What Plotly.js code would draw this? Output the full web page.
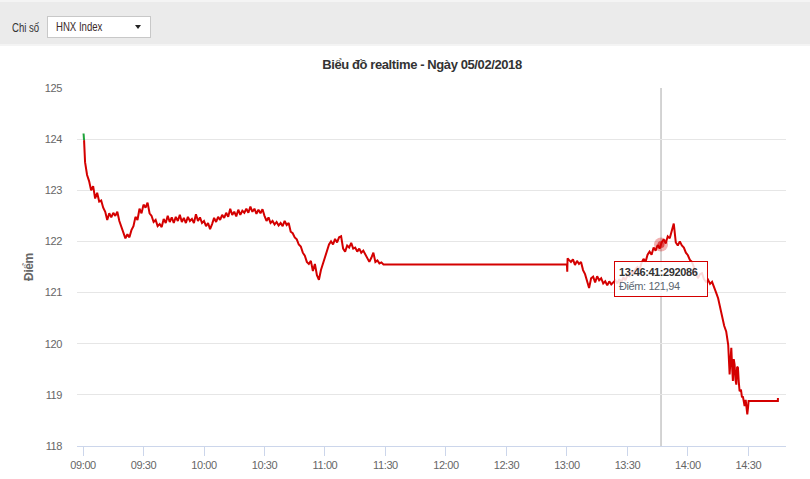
<!DOCTYPE html>
<html>
<head>
<meta charset="utf-8">
<script src="https://cdn.plot.ly/plotly-3.0.1.min.js"></script>
<style>
  html, body { margin: 0; padding: 0; width: 810px; height: 479px; overflow: hidden; background: #fff;
    font-family: "Liberation Sans", sans-serif; }
  .main-svg text { letter-spacing: -0.4px; }
  #hdr { position: absolute; left: 0; top: 0; width: 810px; height: 46px; background: #ebebeb;
    border-top: 2px solid #f4f4f4; border-bottom: 2px solid #f4f4f4; box-sizing: border-box; }
  #lbl { position: absolute; left: 12px; top: 19px; font-size: 12px; color: #333; white-space: nowrap;
    transform: scaleX(0.8); transform-origin: left center; }
  #sel { position: absolute; left: 47px; top: 14px; width: 104px; height: 22px; background: #fff;
    border: 1px solid #c8c8c8; box-sizing: border-box; font-size: 12px; color: #3a2a2a; }
  #sel span { position: absolute; left: 8px; top: 3px; white-space: nowrap;
    transform: scaleX(0.8); transform-origin: left center; }
  #sel i { position: absolute; right: 9px; top: 8px; width: 0; height: 0; border-left: 3px solid transparent;
    border-right: 3px solid transparent; border-top: 4px solid #222; }
  #chart { position: absolute; left: 0; top: 47px; width: 810px; height: 432px; }
</style>
</head>
<body>
<div id="hdr"><div id="lbl">Chi số</div><div id="sel"><span>HNX Index</span><i></i></div></div>
<div id="chart"></div>
<script>
const DAY = "2018-02-05 ";

// opening tick (above reference) - green
const upTimes = ["09:00:15", "09:00:30"];
const upValues = [124.11, 123.98];

// opening seconds
const openTimes = ["09:00:30", "09:00:42"];
const openValues = [123.98, 123.65];

// morning session: one reading per minute from 09:01 to 11:29
const morningStart = "09:01:00";
const morningValues = [
  123.55,123.30,123.18,123.00,123.08,122.84,122.95,122.78,122.80,122.66,
  122.58,122.42,122.55,122.47,122.56,122.50,122.58,122.40,122.30,122.18,
  122.06,122.14,122.08,122.22,122.30,122.48,122.42,122.64,122.55,122.72,
  122.66,122.76,122.55,122.50,122.38,122.42,122.30,122.34,122.28,122.44,
  122.36,122.50,122.38,122.47,122.36,122.48,122.40,122.52,122.38,122.46,
  122.36,122.48,122.40,122.44,122.36,122.53,122.40,122.47,122.36,122.40,
  122.30,122.36,122.24,122.34,122.46,122.38,122.48,122.42,122.52,122.46,
  122.56,122.48,122.64,122.52,122.58,122.49,122.62,122.52,122.60,122.56,
  122.64,122.56,122.68,122.58,122.64,122.54,122.62,122.55,122.63,122.50,
  122.40,122.47,122.36,122.40,122.33,122.38,122.31,122.36,122.30,122.40,
  122.32,122.36,122.19,122.16,122.08,122.04,121.94,121.90,121.78,121.72,
  121.60,121.56,121.62,121.42,121.56,121.34,121.25,121.44,121.56,121.68,
  121.82,121.94,122.00,121.94,122.05,121.98,122.08,122.10,121.86,121.80,
  121.92,121.88,121.97,121.86,121.88,121.80,121.86,121.78,121.82,121.74,
  121.66,121.60,121.68,121.78,121.60,121.63,121.57,121.59,121.55
];

// lunch break + restart ticks
const middayTimes = ["13:00:00", "13:00:10", "13:00:20"];
const middayValues = [121.55, 121.41, 121.67];

// afternoon session: one reading per minute from 13:01 to 14:20
const afternoonStart = "13:01:00";
const afternoonValues = [
  121.64,121.60,121.65,121.54,121.62,121.56,121.60,121.44,121.36,121.20,
  121.09,121.28,121.31,121.20,121.32,121.24,121.28,121.18,121.22,121.14,
  121.22,121.16,121.20,121.24,121.18,121.26,121.20,121.30,121.24,121.34,
  121.32,121.42,121.36,121.46,121.50,121.44,121.58,121.66,121.60,121.74,
  121.80,121.74,121.88,121.82,121.93,121.86,121.98,122.04,121.96,122.10,
  122.06,122.22,122.35,121.98,121.92,122.00,121.92,121.88,121.78,121.73,
  121.64,121.60,121.48,121.40,121.28,121.36,121.38,121.26,121.21,121.25,
  121.17,121.21,121.12,121.00,120.89,120.70,120.57,120.35,120.24,119.98
];

// closing sell-off and ATC
const closeTimes = [
  "14:20:42","14:21:10","14:21:32","14:22:00","14:22:20","14:22:45","14:23:10","14:23:35","14:24:01","14:24:25",
  "14:24:49","14:25:15","14:25:39","14:26:20","14:26:50","14:27:17","14:27:40","14:28:08","14:28:40","14:29:00",
  "14:29:28","14:29:50","14:30:07","14:44:38","14:44:40"
];
const closeValues = [
  119.40,119.85,119.92,119.50,119.27,119.70,119.59,119.30,119.20,119.55,
  119.53,119.25,119.07,119.10,118.95,118.97,118.85,118.78,118.90,118.70,
  118.62,118.75,118.88,118.88,118.94
];

// hovered point shown in the tooltip
const hoverTime = "13:46:41";
const hoverValue = 121.94;
const hoverLabel = "13:46:41:292086";
const hoverText = "121,94";

const yTicks = [118, 119, 120, 121, 122, 123, 124, 125];
const FONT = '"Liberation Sans", Arial, sans-serif';

function perMinute(start, vals) {
  const base = new Date("2018-02-05T" + start + "Z").getTime();
  return vals.map((_, i) => {
    const d = new Date(base + i * 60000);
    return DAY + d.toISOString().slice(11, 19);
  });
}

const allTimes = [].concat(
  openTimes.map(t => DAY + t),
  perMinute(morningStart, morningValues),
  middayTimes.map(t => DAY + t),
  perMinute(afternoonStart, afternoonValues),
  closeTimes.map(t => DAY + t)
);
const allValues = [].concat(openValues, morningValues, middayValues, afternoonValues, closeValues);

const traces = [
  { x: allTimes, y: allValues, type: "scatter", mode: "lines",
    line: { color: "#d40000", width: 2 }, hoverinfo: "skip" },
  { x: upTimes.map(t => DAY + t), y: upValues, type: "scatter", mode: "lines",
    line: { color: "#1fa33a", width: 2 }, hoverinfo: "skip" },
  { x: [DAY + hoverTime], y: [hoverValue], type: "scatter", mode: "markers",
    marker: { color: "rgba(212,0,0,0.3)", size: 14 }, hoverinfo: "skip" },
  { x: [DAY + hoverTime], y: [hoverValue], type: "scatter", mode: "markers",
    marker: { color: "rgba(212,0,0,0.6)", size: 7 }, hoverinfo: "skip" }
];

const layout = {
  width: 810, height: 432,
  margin: { l: 77, r: 24, t: 40.5, b: 32.5 },
  paper_bgcolor: "#ffffff", plot_bgcolor: "#ffffff",
  showlegend: false,
  hovermode: false,
  font: { family: FONT, color: "#666", size: 11 },
  title: { text: "<b>Biểu đồ realtime - Ngày 05/02/2018</b>", x: 422 / 810, xref: "container", xanchor: "center",
           y: 1 - 17 / 432, yref: "container", yanchor: "middle",
           font: { family: FONT, size: 13, color: "#333" } },
  xaxis: {
    type: "date",
    range: [DAY + "08:57:00", DAY + "14:48:40"],
    tickformat: "%H:%M", dtick: 1800000, tick0: DAY + "09:00:00",
    showgrid: false, zeroline: false,
    showline: true, linecolor: "#ccd6eb", linewidth: 1,
    ticks: "outside", ticklen: 9, tickcolor: "#ccd6eb", tickwidth: 1,
    tickfont: { family: FONT, size: 11, color: "#666" }
  },
  yaxis: {
    range: [118, 125], tickvals: yTicks, ticktext: yTicks.map(String),
    showgrid: true, gridcolor: "#e6e6e6", gridwidth: 1, zeroline: false,
    showline: false, ticks: "", ticklabelstandoff: 14,
    tickfont: { family: FONT, size: 11, color: "#666" },
    title: { text: "<b>Điểm</b>", standoff: 7, font: { family: FONT, size: 12, color: "#666" } }
  },
  shapes: [
    { type: "line", xref: "x", yref: "paper", x0: DAY + hoverTime, x1: DAY + hoverTime, y0: 0, y1: 1,
      line: { color: "#a8a8a8", width: 1 }, layer: "below" }
  ],
  annotations: [
    { x: DAY + hoverTime, y: 121.27, xref: "x", yref: "y", showarrow: false,
      xanchor: "center", yanchor: "middle", align: "left",
      text: "<b>" + hoverLabel + "</b><br><span style='color:#5b6670'>Điểm: " + hoverText + "</span>",
      font: { family: FONT, size: 11, color: "#333" },
      bgcolor: "rgba(255,255,255,0.85)", bordercolor: "#d40000", borderwidth: 1, borderpad: 4 }
  ]
};

Plotly.newPlot("chart", traces, layout, { displayModeBar: false, staticPlot: true });
</script>
</body>
</html>
